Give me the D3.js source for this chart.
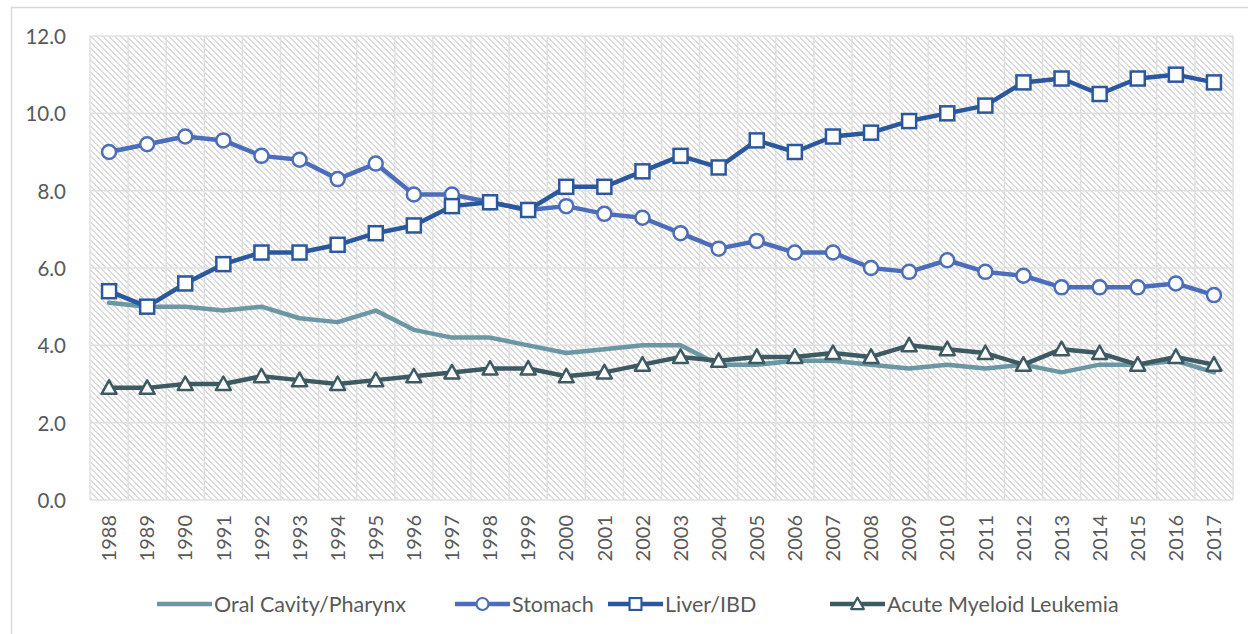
<!DOCTYPE html>
<html>
<head>
<meta charset="utf-8">
<script src="https://cdn.jsdelivr.net/npm/d3@7"></script>
<style>
  body { margin: 0; background: #fff; }
  svg { display: block; font-family: Lato, "Open Sans", sans-serif; }
</style>
</head>
<body>
<div id="container"></div>
<script>
'use strict'

const years = d3.range(1988, 2018).map(String);
const yTicks = [0, 2, 4, 6, 8, 10, 12];

const oral    = [5.1, 5.0, 5.0, 4.9, 5.0, 4.7, 4.6, 4.9, 4.4, 4.2, 4.2, 4.0, 3.8, 3.9, 4.0, 4.0, 3.5, 3.5, 3.6, 3.6, 3.5, 3.4, 3.5, 3.4, 3.5, 3.3, 3.5, 3.5, 3.6, 3.3];
const stomach = [9.0, 9.2, 9.4, 9.3, 8.9, 8.8, 8.3, 8.7, 7.9, 7.9, 7.7, 7.5, 7.6, 7.4, 7.3, 6.9, 6.5, 6.7, 6.4, 6.4, 6.0, 5.9, 6.2, 5.9, 5.8, 5.5, 5.5, 5.5, 5.6, 5.3];
const liver   = [5.4, 5.0, 5.6, 6.1, 6.4, 6.4, 6.6, 6.9, 7.1, 7.6, 7.7, 7.5, 8.1, 8.1, 8.5, 8.9, 8.6, 9.3, 9.0, 9.4, 9.5, 9.8, 10.0, 10.2, 10.8, 10.9, 10.5, 10.9, 11.0, 10.8];
const aml     = [2.9, 2.9, 3.0, 3.0, 3.2, 3.1, 3.0, 3.1, 3.2, 3.3, 3.4, 3.4, 3.2, 3.3, 3.5, 3.7, 3.6, 3.7, 3.7, 3.8, 3.7, 4.0, 3.9, 3.8, 3.5, 3.9, 3.8, 3.5, 3.7, 3.5];

const series = [
  {name: 'Oral Cavity/Pharynx', values: oral, color: '#6a97a3', marker: null},
  {name: 'Stomach', values: stomach, color: '#4c6db9', marker: 'circle'},
  {name: 'Liver/IBD', values: liver, color: '#2b589c', marker: 'square'},
  {name: 'Acute Myeloid Leukemia', values: aml, color: '#3d5a62', marker: 'triangle'}
];

const width = 1248, height = 634;
const margin = {left: 90, right: 15, top: 36, bottom: 134};

const svg = d3.select('#container').append('svg')
  .attr('width', width)
  .attr('height', height);

// hatch fill for the plot area (light downward diagonal)
const defs = svg.append('defs');
const pat = defs.append('pattern')
  .attr('id', 'hatch')
  .attr('patternUnits', 'userSpaceOnUse')
  .attr('width', 6).attr('height', 6);
pat.append('rect').attr('width', 6).attr('height', 6).attr('fill', '#fff');
d3.range(6).forEach(i => {
  pat.append('rect').attr('x', i).attr('y', i).attr('width', 2).attr('height', 1).attr('fill', '#dcdcdc');
});
pat.append('rect').attr('x', 0).attr('y', 5).attr('width', 1).attr('height', 1).attr('fill', '#dcdcdc');

// chart frame
svg.append('rect')
  .attr('x', 11.5).attr('y', 7.5)
  .attr('width', width).attr('height', height)
  .attr('fill', 'none').attr('stroke', '#d9d9d9').attr('stroke-width', 1.5);

const x = d3.scaleBand()
  .domain(years)
  .range([margin.left, width - margin.right]);

const y = d3.scaleLinear()
  .domain([0, 12])
  .range([height - margin.bottom, margin.top]);

svg.append('rect')
  .attr('x', margin.left).attr('y', margin.top)
  .attr('width', x.range()[1] - margin.left)
  .attr('height', y(0) - margin.top)
  .attr('fill', 'url(#hatch)');

// gridlines
const grid = svg.append('g').attr('stroke', '#e0e0e0').attr('stroke-width', 1.5);
grid.selectAll('.hg').data(yTicks).enter().append('line')
  .attr('x1', margin.left).attr('x2', x.range()[1])
  .attr('y1', d => y(d)).attr('y2', d => y(d));
grid.selectAll('.vg').data(d3.range(years.length + 1)).enter().append('line')
  .attr('x1', i => margin.left + i * x.step()).attr('x2', i => margin.left + i * x.step())
  .attr('y1', margin.top).attr('y2', y(0));

// y axis
const yAxis = svg.append('g')
  .attr('transform', `translate(${margin.left - 21},0)`)
  .call(d3.axisLeft(y).tickValues(yTicks).tickFormat(d3.format('.1f')).tickSize(0));
yAxis.select('.domain').remove();
yAxis.selectAll('text')
  .attr('fill', '#595959').attr('font-size', 20.5).attr('font-family', 'Lato, sans-serif')
  .attr('dy', '0.36em');

// x axis
const xAxis = svg.append('g')
  .attr('transform', `translate(0,${y(0)})`)
  .call(d3.axisBottom(x).tickSize(0));
xAxis.select('.domain').remove();
xAxis.selectAll('text')
  .attr('fill', '#595959').attr('font-size', 20).attr('font-family', 'Lato, sans-serif')
  .attr('transform', 'rotate(-90)')
  .attr('text-anchor', 'end')
  .attr('x', -15).attr('y', 0).attr('dy', '0.36em');

const cx = d => x(d) + x.bandwidth() / 2;

function drawMarker(g, type, color) {
  if (type === 'circle') {
    g.append('circle').attr('r', 7).attr('fill', '#fff').attr('stroke', color).attr('stroke-width', 2.5);
  } else if (type === 'square') {
    g.append('rect').attr('x', -7).attr('y', -7).attr('width', 14).attr('height', 14)
      .attr('fill', '#fff').attr('stroke', color).attr('stroke-width', 2.5);
  } else if (type === 'triangle') {
    g.append('path').attr('d', 'M0,-7.5L7.5,6L-7.5,6Z')
      .attr('fill', '#fff').attr('stroke', color).attr('stroke-width', 2.5).attr('stroke-linejoin', 'round');
  }
}

const line = d3.line()
  .x((d, i) => cx(years[i]))
  .y(d => y(d));

series.forEach(s => {
  const g = svg.append('g');
  g.append('path')
    .attr('d', line(s.values))
    .attr('fill', 'none')
    .attr('stroke', s.color)
    .attr('stroke-width', 4.5)
    .attr('stroke-linejoin', 'round')
    .attr('stroke-linecap', 'round');
  if (s.marker) {
    s.values.forEach((v, i) => {
      const m = g.append('g').attr('transform', `translate(${cx(years[i])},${y(v)})`);
      drawMarker(m, s.marker, s.color);
    });
  }
});

// legend
const legendX = [157, 455, 608, 830];
const legend = svg.append('g').attr('transform', 'translate(0,604)');
series.forEach((s, i) => {
  const lg = legend.append('g').attr('transform', `translate(${legendX[i]},0)`);
  lg.append('line').attr('x1', 0).attr('x2', 55).attr('y1', 0).attr('y2', 0)
    .attr('stroke', s.color).attr('stroke-width', 4.5);
  if (s.marker) {
    const m = lg.append('g').attr('transform', 'translate(27.5,0) scale(0.85)');
    drawMarker(m, s.marker, s.color);
  }
  lg.append('text').attr('x', 57).attr('y', 0).attr('dy', '0.35em')
    .attr('fill', '#595959').attr('font-size', 21.5)
    .text(s.name);
});
</script>
</body>
</html>
